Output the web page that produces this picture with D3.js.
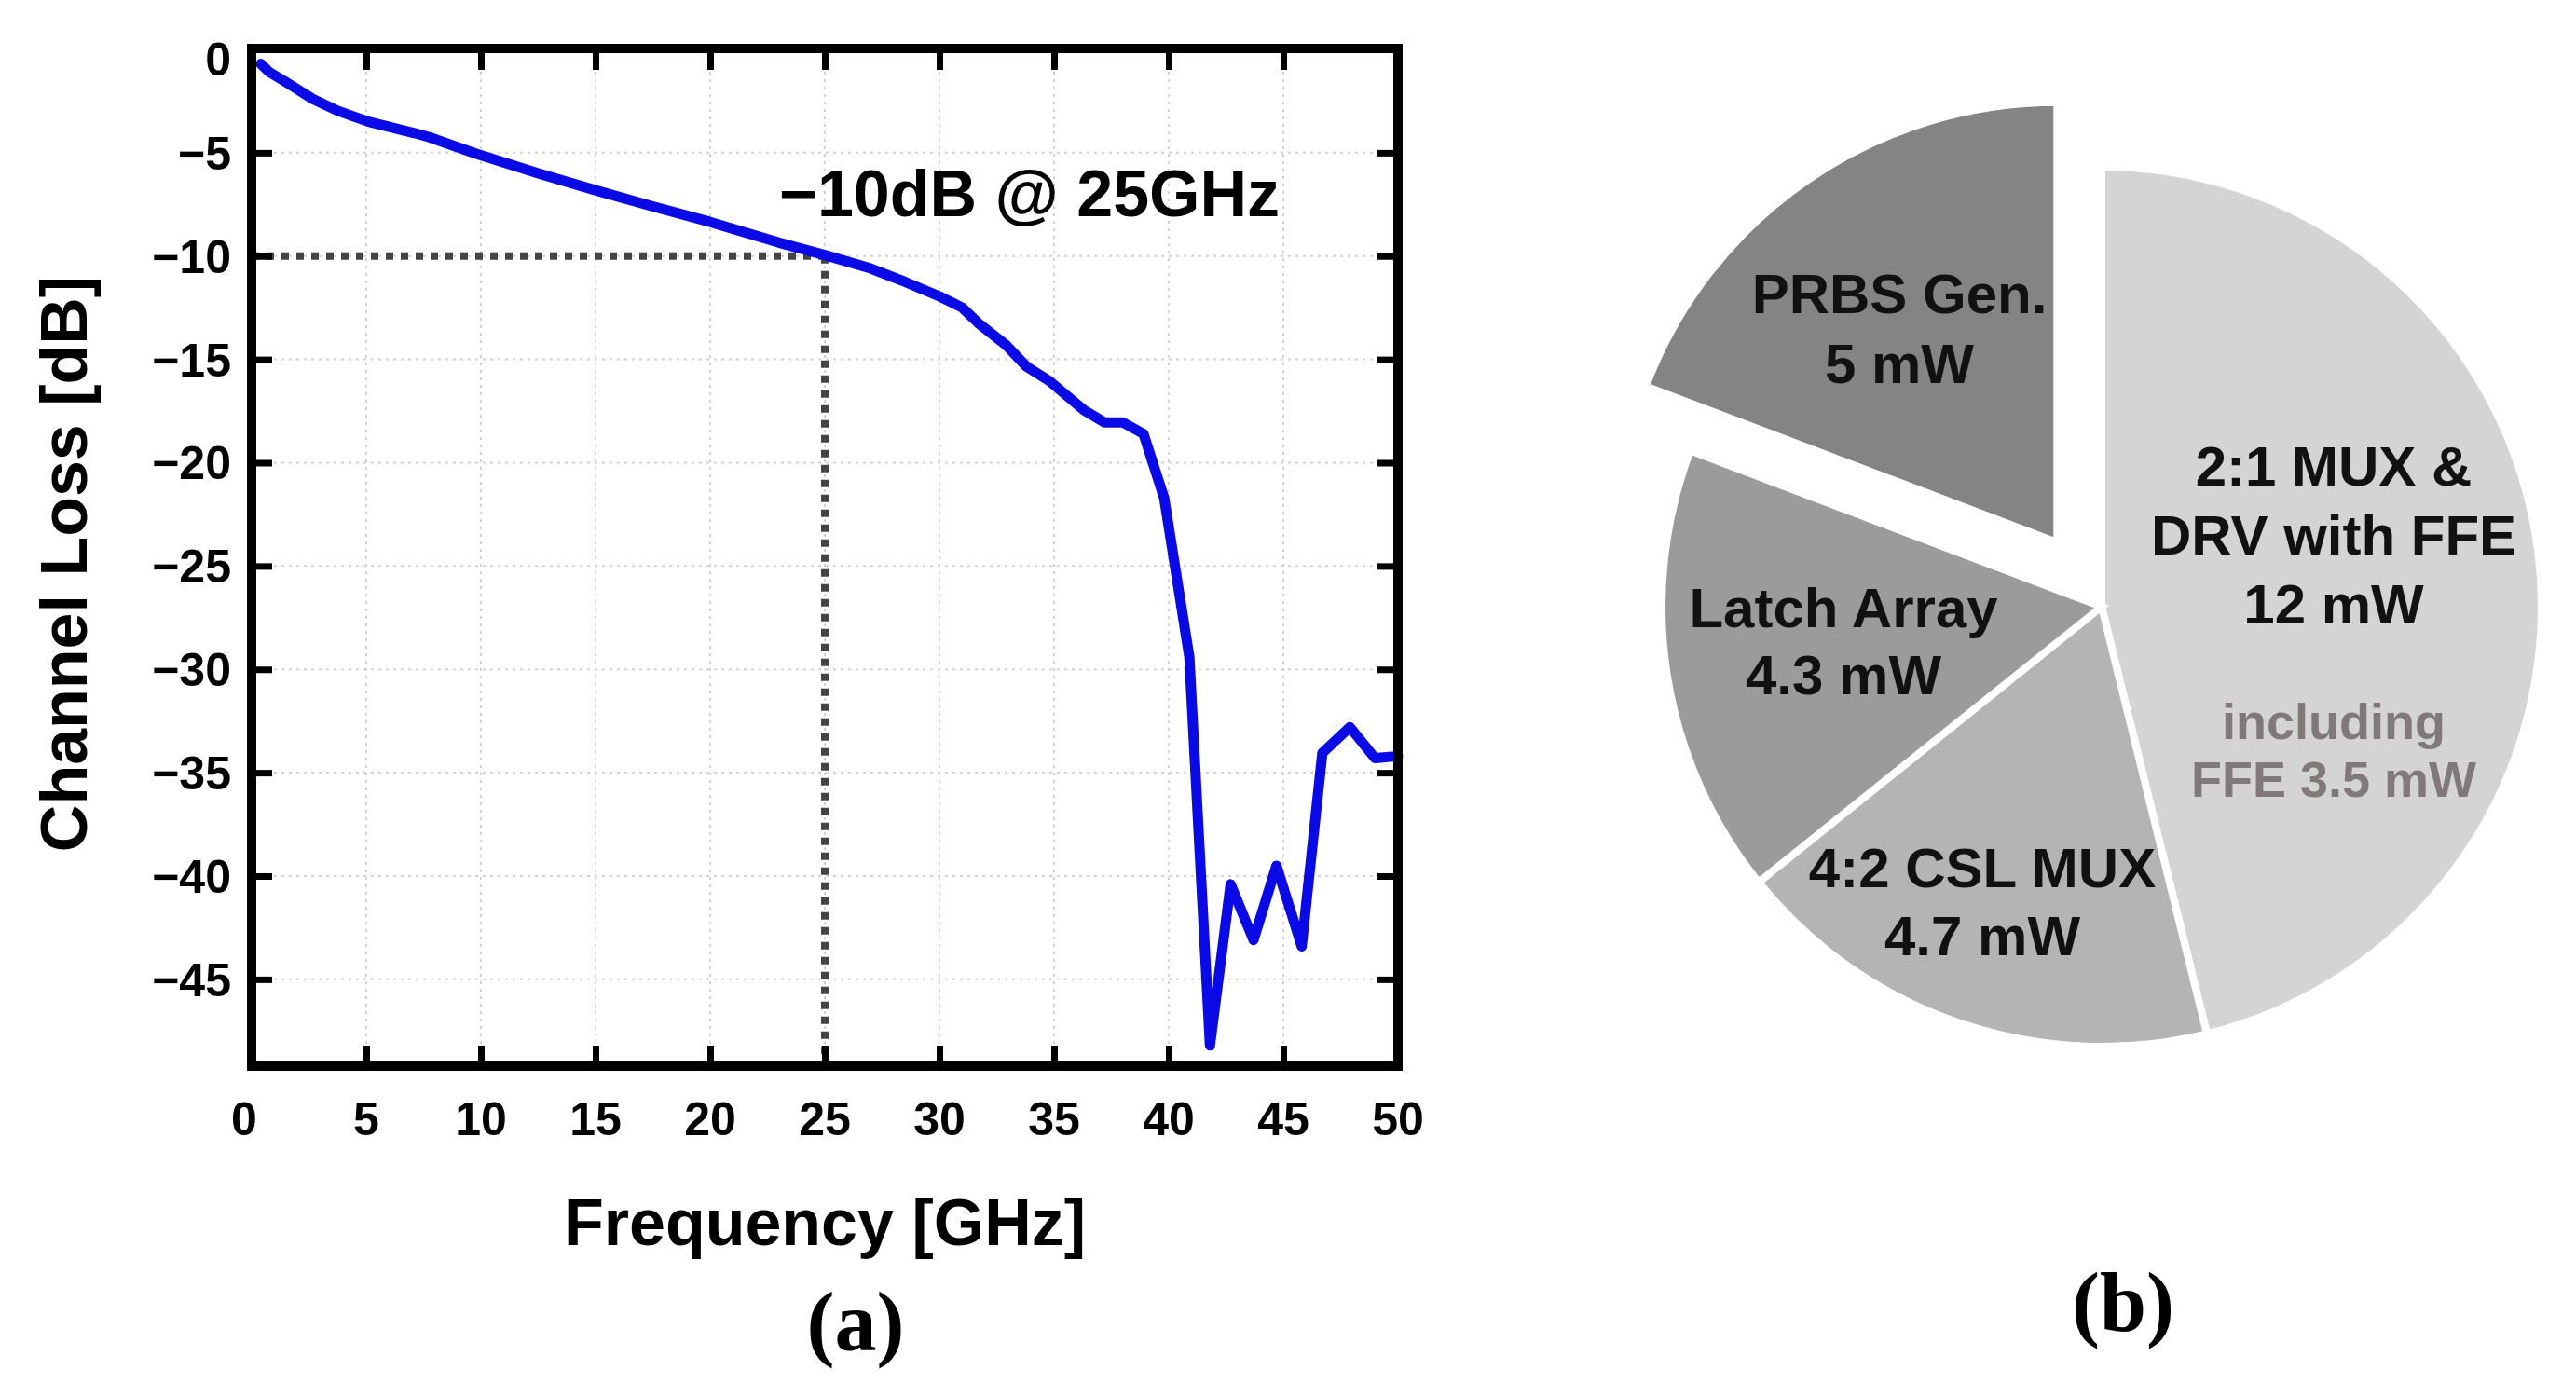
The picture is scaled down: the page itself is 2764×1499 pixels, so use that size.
<!DOCTYPE html>
<html>
<head>
<meta charset="utf-8">
<script src="https://cdn.jsdelivr.net/npm/d3@7"></script>
<style>
  html, body { margin: 0; padding: 0; background: #ffffff; }
  svg { display: block; }
</style>
</head>
<body>
<svg id="chart" width="2764" height="1499"></svg>
<script>
// ---------------- DATA ----------------
const freqGHz = [0.4, 0.77, 1.45, 2.67, 3.75, 5.1, 7.1, 7.75, 9.8, 12.5, 15.1, 17.5, 20.0, 23.0, 25.0, 27.0, 28.5,
                 30.0, 31.0, 31.7, 32.9, 33.8, 34.8, 36.3, 37.2, 38.0, 38.9, 39.8, 40.9, 41.8, 42.7,
                 43.7, 44.7, 45.8, 46.7, 47.9, 49.0, 50.0];
const lossDb  = [-0.7, -1.1, -1.55, -2.4, -2.97, -3.5, -4.05, -4.25, -5.05, -6.0, -6.85, -7.6, -8.35, -9.35, -9.95, -10.6, -11.25,
                 -11.95, -12.5, -13.25, -14.3, -15.35, -16.05, -17.45, -18.05, -18.05, -18.6, -21.7, -29.4, -48.2, -40.4,
                 -43.1, -39.5, -43.4, -34.05, -32.8, -34.3, -34.2];
const xTicks = [0, 5, 10, 15, 20, 25, 30, 35, 40, 45, 50];
const yTicks = [0, -5, -10, -15, -20, -25, -30, -35, -40, -45];
const markerFreq = 25;
const markerLoss = -10;
const annotationText = "\u221210dB @ 25GHz";
const xTitle = "Frequency [GHz]";
const yTitle = "Channel Loss [dB]";

const pieNames  = ["2:1 MUX & DRV with FFE", "4:2 CSL MUX", "Latch Array", "PRBS Gen."];
const pieValues = [12, 4.7, 4.3, 5];
const pieLines  = [["2:1 MUX &", "DRV with FFE", "12 mW"], ["4:2 CSL MUX", "4.7 mW"], ["Latch Array", "4.3 mW"], ["PRBS Gen.", "5 mW"]];
const pieNotes  = [["including", "FFE 3.5 mW"], [], [], []];
const explodedSlice = "PRBS Gen.";

// ---------------- LAYOUT / STYLE ----------------
const svg = d3.select("#chart");
const sans = "'Liberation Sans', Arial, Helvetica, sans-serif";
const serif = "'Liberation Serif', 'Times New Roman', serif";

const plot = { left: 270, right: 1500, top: 53, bottom: 1144 };
const x = d3.scaleLinear().domain([0, 50]).range([plot.left, plot.right]);
const y = d3.scaleLinear().domain([-49.2, 0]).range([plot.bottom, plot.top]);

const fmt = v => (v < 0 ? "\u2212" : "") + Math.abs(v);

// grid lines
const grid = svg.append("g");
grid.selectAll("line.vg").data(xTicks.slice(1, -1)).join("line")
  .attr("x1", d => x(d)).attr("x2", d => x(d))
  .attr("y1", plot.top).attr("y2", plot.bottom)
  .attr("stroke", "#d2d2d2").attr("stroke-width", 2).attr("stroke-dasharray", "3,5");
grid.selectAll("line.hg").data(yTicks.slice(1)).join("line")
  .attr("x1", plot.left).attr("x2", plot.right)
  .attr("y1", d => y(d)).attr("y2", d => y(d))
  .attr("stroke", "#d2d2d2").attr("stroke-width", 2).attr("stroke-dasharray", "3,5");

// reference dotted lines
svg.append("line")
  .attr("x1", x(0)).attr("x2", x(markerFreq))
  .attr("y1", y(markerLoss)).attr("y2", y(markerLoss))
  .attr("stroke", "#444444").attr("stroke-width", 8).attr("stroke-dasharray", "8,8");
svg.append("line")
  .attr("x1", x(markerFreq)).attr("x2", x(markerFreq))
  .attr("y1", y(markerLoss)).attr("y2", plot.bottom)
  .attr("stroke", "#444444").attr("stroke-width", 8).attr("stroke-dasharray", "8,8");

// curve
const pts = freqGHz.map((f, i) => [f, lossDb[i]]);
svg.append("path")
  .datum(pts)
  .attr("d", d3.line().x(d => x(d[0])).y(d => y(d[1])))
  .attr("fill", "none").attr("stroke", "#0a0ae6").attr("stroke-width", 11)
  .attr("stroke-linejoin", "round").attr("stroke-linecap", "round");

// axes with inward ticks (all four sides)
const tickLen = 22;
const axisB = d3.axisBottom(x).tickValues(xTicks.slice(1, -1)).tickSize(tickLen).tickFormat("");
const axisT = d3.axisTop(x).tickValues(xTicks.slice(1, -1)).tickSize(tickLen).tickFormat("");
const axisL = d3.axisLeft(y).tickValues(yTicks.slice(1)).tickSize(tickLen).tickFormat("");
const axisR = d3.axisRight(y).tickValues(yTicks.slice(1)).tickSize(tickLen).tickFormat("");

function styleAxis(g) {
  g.select(".domain").remove();
  g.selectAll(".tick line").attr("stroke", "#000").attr("stroke-width", 7);
}
svg.append("g").attr("transform", `translate(0,${plot.bottom - tickLen})`).call(axisB).call(styleAxis);
svg.append("g").attr("transform", `translate(0,${plot.top + tickLen})`).call(axisT).call(styleAxis);
svg.append("g").attr("transform", `translate(${plot.left + tickLen},0)`).call(axisL).call(styleAxis);
svg.append("g").attr("transform", `translate(${plot.right - tickLen},0)`).call(axisR).call(styleAxis);

// frame
svg.append("rect")
  .attr("x", plot.left).attr("y", plot.top - 1)
  .attr("width", plot.right - plot.left).attr("height", plot.bottom - plot.top + 1)
  .attr("fill", "none").attr("stroke", "#000").attr("stroke-width", 10);

// tick labels
svg.append("g").selectAll("text").data(xTicks).join("text")
  .attr("x", d => x(d) - (d === 0 ? 8 : 0)).attr("y", 1218)
  .attr("text-anchor", "middle")
  .attr("font-family", sans).attr("font-weight", "bold").attr("font-size", 50)
  .text(d => fmt(d));
svg.append("g").selectAll("text").data(yTicks).join("text")
  .attr("x", 248).attr("y", d => y(d) + 18 + (d === 0 ? 10 : 0))
  .attr("text-anchor", "end")
  .attr("font-family", sans).attr("font-weight", "bold").attr("font-size", 50)
  .text(d => fmt(d));

// axis titles
svg.append("text")
  .attr("x", 885).attr("y", 1336).attr("text-anchor", "middle")
  .attr("font-family", sans).attr("font-weight", "bold").attr("font-size", 70)
  .text(xTitle);
svg.append("text")
  .attr("transform", "translate(93,605) rotate(-90)").attr("text-anchor", "middle")
  .attr("font-family", sans).attr("font-weight", "bold").attr("font-size", 70)
  .text(yTitle);

// annotation
svg.append("text")
  .attr("x", 836).attr("y", 232)
  .attr("font-family", sans).attr("font-weight", "bold").attr("font-size", 70)
  .text(annotationText);

// panel label (a)
svg.append("text")
  .attr("x", 918).attr("y", 1449).attr("text-anchor", "middle")
  .attr("font-family", serif).attr("font-weight", "bold").attr("font-size", 90)
  .text("(a)");

// ---------------- PIE ----------------
const pieCenter = [2255, 651];
const radius = 472;
const explode = 84;
const pieColors = ["#d4d4d4", "#b4b4b4", "#9b9b9b", "#848484"];
// label anchors relative to pie centre (x centre, first baseline)
const labelAnchor = [[249, -130], [-128, 301], [-277, 22], [-217, -315]];
const lineStep = [74, 73, 72, 75];

const pie = d3.pie().sort(null).value(d => d.value).startAngle(0).endAngle(2 * Math.PI);
const arcs = pie(pieNames.map((n, i) => ({ name: n, value: pieValues[i], i })));
const arc = d3.arc().innerRadius(0).outerRadius(radius);

const pg = svg.append("g").attr("transform", `translate(${pieCenter[0]},${pieCenter[1]})`);
pg.selectAll("path").data(arcs).join("path")
  .attr("transform", d => {
    if (d.data.name !== explodedSlice) return null;
    const mid = (d.startAngle + d.endAngle) / 2;
    return `translate(${Math.sin(mid) * explode},${-Math.cos(mid) * explode})`;
  })
  .attr("d", arc)
  .attr("fill", d => pieColors[d.data.i])
  .attr("stroke", "#ffffff").attr("stroke-width", 8).attr("stroke-linejoin", "miter");

arcs.forEach(d => {
  const i = d.data.i;
  const [ax, ay] = labelAnchor[i];
  const t = pg.append("text")
    .attr("text-anchor", "middle")
    .attr("font-family", sans).attr("font-weight", "bold").attr("font-size", 60)
    .attr("fill", "#111111");
  pieLines[i].forEach((line, k) => {
    t.append("tspan").attr("x", ax).attr("y", ay + k * lineStep[i]).text(line);
  });
  if (pieNotes[i].length) {
    const base = ay + (pieLines[i].length - 1) * lineStep[i] + 124;
    const n = pg.append("text")
      .attr("text-anchor", "middle")
      .attr("font-family", sans).attr("font-weight", "bold").attr("font-size", 54)
      .attr("fill", "#817979");
    pieNotes[i].forEach((line, k) => {
      n.append("tspan").attr("x", ax).attr("y", base + k * 62).text(line);
    });
  }
});

// panel label (b)
svg.append("text")
  .attr("x", 2278).attr("y", 1428).attr("text-anchor", "middle")
  .attr("font-family", serif).attr("font-weight", "bold").attr("font-size", 90)
  .text("(b)");
</script>
</body>
</html>
